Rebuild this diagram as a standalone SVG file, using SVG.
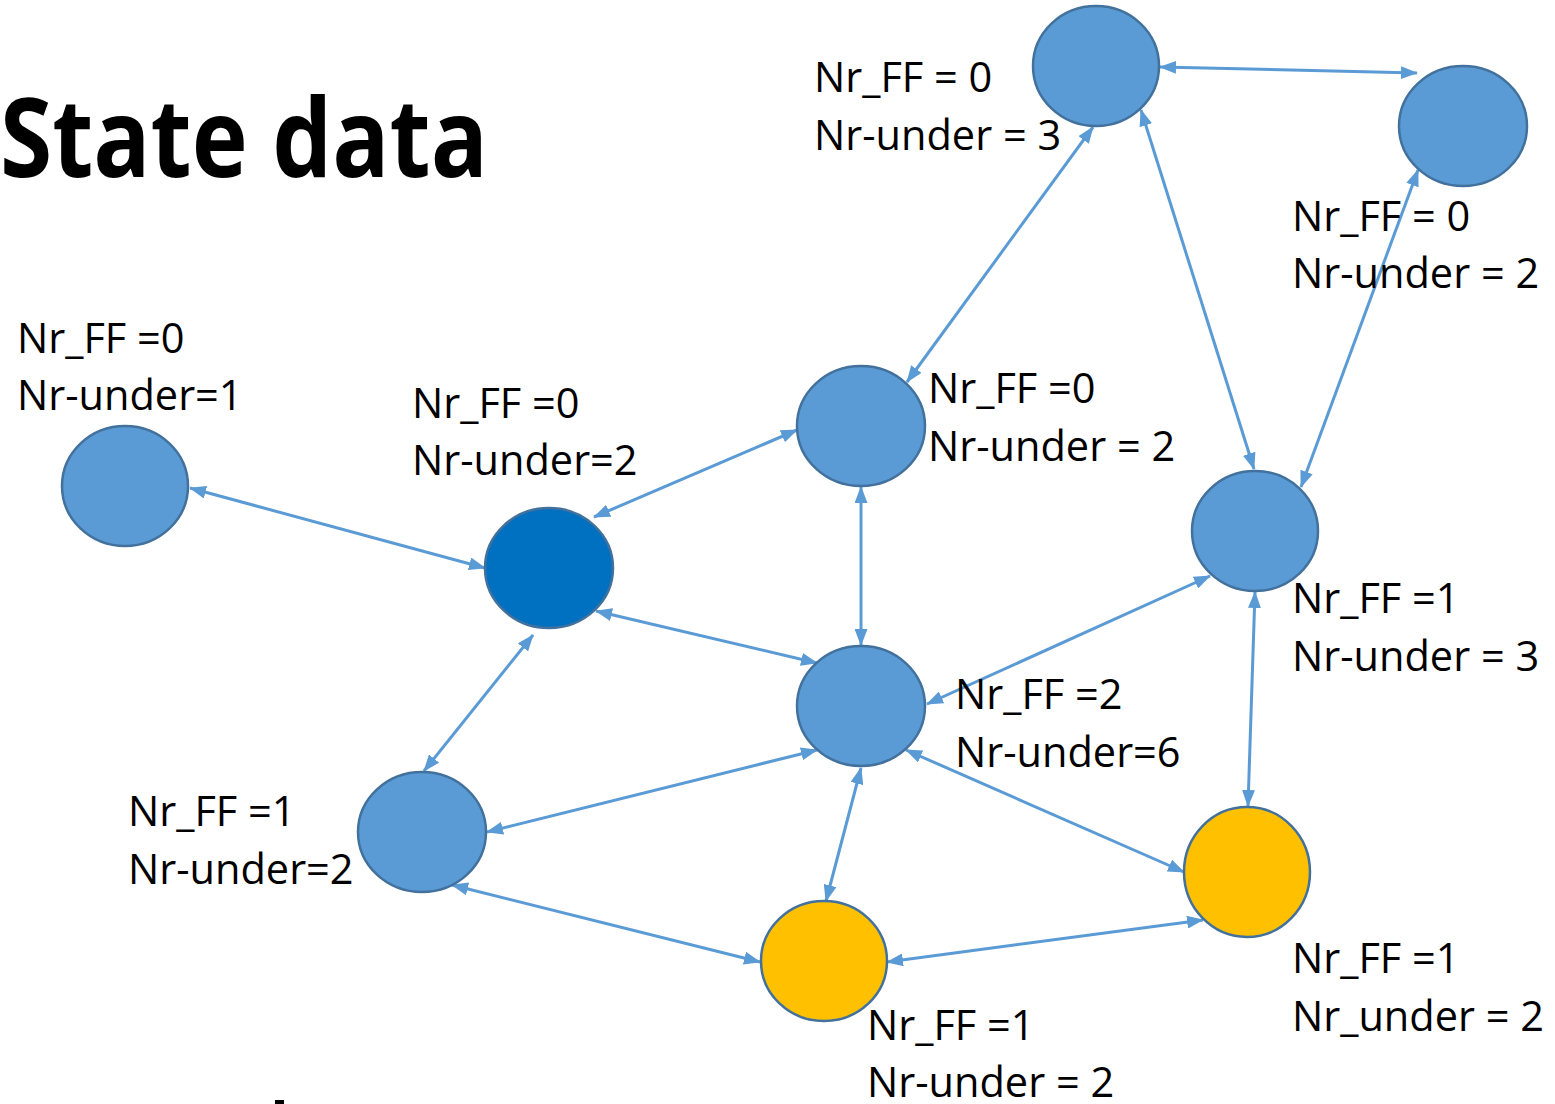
<svg xmlns="http://www.w3.org/2000/svg" width="1555" height="1104" viewBox="0 0 1555 1104">
  <style>
    .node { fill: #5B9BD5; stroke: #41719C; stroke-width: 2.5; }
    .node.dark { fill: #0070C0; }
    .node.gold { fill: #FFC000; }
    .edge { stroke: #5B9BD5; stroke-width: 3; fill: none; marker-start: url(#arrow); marker-end: url(#arrow); }
    .lbl { font-family: "Open Sans", "Liberation Sans", sans-serif; font-size: 41.5px; fill: #000; }
    .title { font-family: "Open Sans", "Liberation Sans", sans-serif; font-size: 110px; font-weight: bold; fill: #000; }
  </style>
  <defs>
    <marker id="arrow" viewBox="0 0 17 13" refX="16" refY="6.5" markerWidth="17" markerHeight="13" markerUnits="userSpaceOnUse" orient="auto-start-reverse">
      <path d="M0,0 L17,6.5 L0,13 z" fill="#5B9BD5"/>
    </marker>
  </defs>
  <rect width="1555" height="1104" fill="#fff"/>

  <text class="title" x="0" y="177" textLength="488" lengthAdjust="spacingAndGlyphs">State data</text>

  <g id="connectors">
    <line class="edge" x1="1160" y1="67" x2="1417" y2="73"/>
    <line class="edge" x1="1093" y1="127" x2="907" y2="382"/>
    <line class="edge" x1="1141" y1="110" x2="1254" y2="469"/>
    <line class="edge" x1="1418" y1="170" x2="1301" y2="487"/>
    <line class="edge" x1="190" y1="488" x2="485" y2="568"/>
    <line class="edge" x1="594" y1="517" x2="797" y2="430"/>
    <line class="edge" x1="596" y1="611" x2="817" y2="663"/>
    <line class="edge" x1="861" y1="487" x2="861" y2="645"/>
    <line class="edge" x1="1210" y1="576" x2="927" y2="704"/>
    <line class="edge" x1="1255" y1="592" x2="1248" y2="806"/>
    <line class="edge" x1="533" y1="635" x2="424" y2="771"/>
    <line class="edge" x1="817" y1="750" x2="487" y2="832"/>
    <line class="edge" x1="861" y1="768" x2="826" y2="901"/>
    <line class="edge" x1="906" y1="750" x2="1184" y2="872"/>
    <line class="edge" x1="452" y1="885" x2="760" y2="962"/>
    <line class="edge" x1="887" y1="962" x2="1203" y2="920"/>
  </g>

  <g id="n-top">
    <ellipse class="node" cx="1096" cy="66" rx="63" ry="60"/>
    <text class="lbl" x="814" y="92">Nr_FF = 0</text>
    <text class="lbl" x="814" y="150">Nr-under = 3</text>
  </g>
  <g id="n-topright">
    <ellipse class="node" cx="1463" cy="126" rx="64" ry="60"/>
    <text class="lbl" x="1292" y="231">Nr_FF = 0</text>
    <text class="lbl" x="1292" y="288">Nr-under = 2</text>
  </g>
  <g id="n-left">
    <ellipse class="node" cx="125" cy="486" rx="63" ry="60"/>
    <text class="lbl" x="17" y="353">Nr_FF =0</text>
    <text class="lbl" x="17" y="410">Nr-under=1</text>
  </g>
  <g id="n-source">
    <ellipse class="node dark" cx="549" cy="568" rx="64" ry="60"/>
    <text class="lbl" x="412" y="418">Nr_FF =0</text>
    <text class="lbl" x="412" y="475">Nr-under=2</text>
  </g>
  <g id="n-midtop">
    <ellipse class="node" cx="861" cy="426" rx="64" ry="60"/>
    <text class="lbl" x="928" y="403">Nr_FF =0</text>
    <text class="lbl" x="928" y="461">Nr-under = 2</text>
  </g>
  <g id="n-right">
    <ellipse class="node" cx="1255" cy="531" rx="63" ry="60"/>
    <text class="lbl" x="1292" y="613">Nr_FF =1</text>
    <text class="lbl" x="1292" y="671">Nr-under = 3</text>
  </g>
  <g id="n-center">
    <ellipse class="node" cx="861" cy="706" rx="64" ry="60"/>
    <text class="lbl" x="955" y="709">Nr_FF =2</text>
    <text class="lbl" x="955" y="767">Nr-under=6</text>
  </g>
  <g id="n-lowleft">
    <ellipse class="node" cx="422" cy="832" rx="64" ry="60"/>
    <text class="lbl" x="128" y="826">Nr_FF =1</text>
    <text class="lbl" x="128" y="884">Nr-under=2</text>
  </g>
  <g id="n-bottom">
    <ellipse class="node gold" cx="824" cy="961" rx="63" ry="60"/>
    <text class="lbl" x="867" y="1040">Nr_FF =1</text>
    <text class="lbl" x="867" y="1097">Nr-under = 2</text>
  </g>
  <g id="n-lowright">
    <ellipse class="node gold" cx="1247" cy="872" rx="63" ry="65"/>
    <text class="lbl" x="1292" y="973">Nr_FF =1</text>
    <text class="lbl" x="1292" y="1031">Nr_under = 2</text>
  </g>

  <rect x="275" y="1100" width="9" height="4" fill="#000"/>
</svg>
